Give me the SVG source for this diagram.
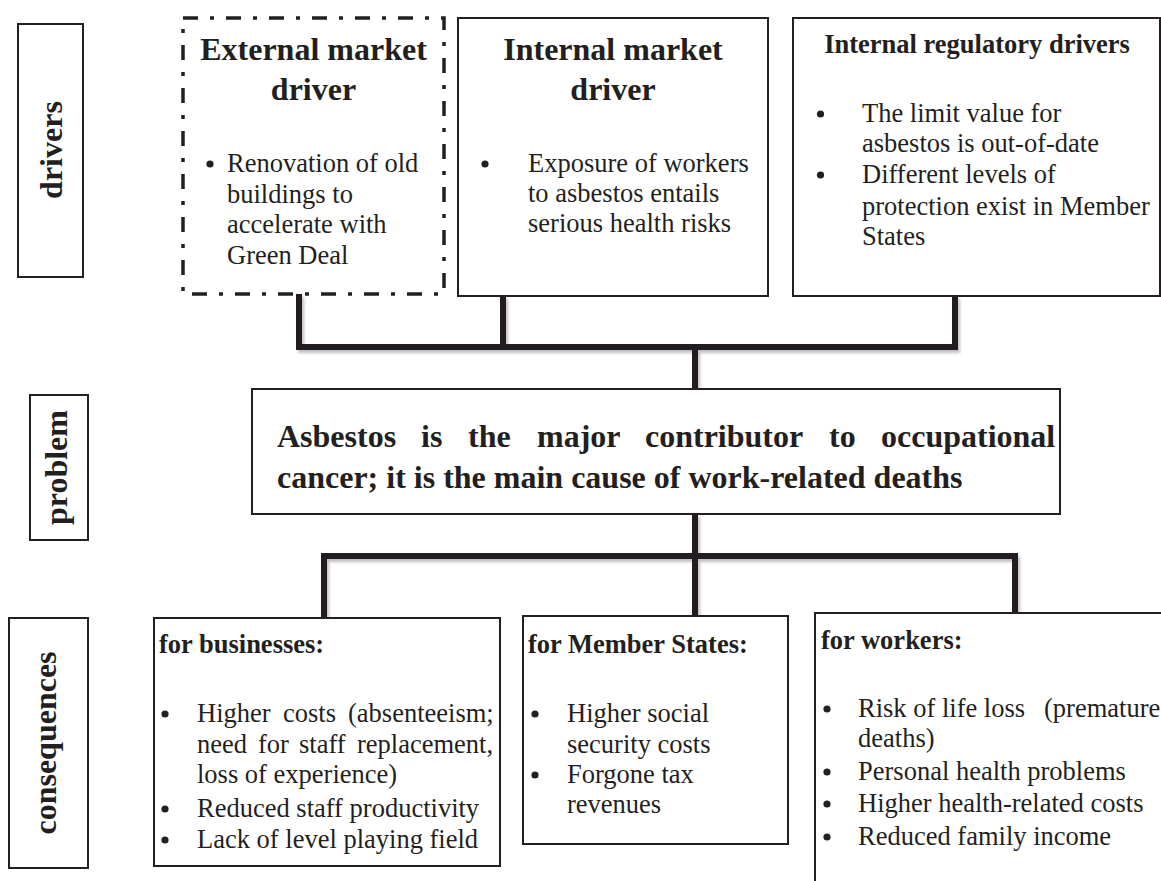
<svg xmlns="http://www.w3.org/2000/svg" width="1161" height="881" viewBox="0 0 1161 881">
  <defs>
    <style>
      .box{fill:#fff;stroke:#231f20;stroke-width:2}
      .dash{fill:#fff;stroke:#231f20;stroke-width:3.5;stroke-dasharray:15 12 4 12}
      .conn{fill:none;stroke:#231f20;stroke-width:6;stroke-linejoin:miter;stroke-linecap:butt}
      .t{font-family:"Liberation Serif","Times New Roman",serif;fill:#231f20}
      .b{font-weight:bold}
      .h{font-size:32px}
      .s{font-size:26.5px}
      .m{text-anchor:middle}
      .dot{fill:#231f20}
    </style>
    <filter id="sh" x="-10%" y="-10%" width="120%" height="130%">
      <feDropShadow dx="2" dy="3" stdDeviation="1.5" flood-color="#000" flood-opacity="0.25"/>
    </filter>
  </defs>
  <rect width="1161" height="881" fill="#fff"/>

  <g id="connectors" filter="url(#sh)">
    <path class="conn" d="M299,294 V347 H955 V296"/>
    <path class="conn" d="M503,296 V347"/>
    <path class="conn" d="M695,347 V389"/>
    <path class="conn" d="M695,514 V616"/>
    <path class="conn" d="M324,618 V556 H1015 V613"/>
  </g>

  <g id="label-drivers">
    <rect class="box" x="18" y="24" width="65" height="253"/>
    <text class="t b h m" transform="translate(62,150) rotate(-90)">drivers</text>
  </g>
  <g id="label-problem">
    <rect class="box" x="30" y="395" width="58" height="145"/>
    <text class="t b h m" transform="translate(67,467.5) rotate(-90)">problem</text>
  </g>
  <g id="label-consequences">
    <rect class="box" x="9" y="618" width="79" height="250"/>
    <text class="t b h m" transform="translate(56,743) rotate(-90)">consequences</text>
  </g>

  <g id="external-market-driver">
    <rect class="dash" x="183" y="18" width="261" height="276"/>
    <text class="t b h m" x="313.5" y="60">External market</text>
    <text class="t b h m" x="313.5" y="100">driver</text>
    <circle class="dot" cx="210" cy="164" r="3.6"/>
    <text class="t s" x="227" y="172">Renovation of old</text>
    <text class="t s" x="227" y="203">buildings to</text>
    <text class="t s" x="227" y="233">accelerate with</text>
    <text class="t s" x="227" y="264">Green Deal</text>
  </g>

  <g id="internal-market-driver">
    <rect class="box" x="458" y="18" width="310" height="278"/>
    <text class="t b h m" x="613" y="60">Internal market</text>
    <text class="t b h m" x="613" y="100">driver</text>
    <circle class="dot" cx="485" cy="164" r="3.6"/>
    <text class="t s" x="528" y="172">Exposure of workers</text>
    <text class="t s" x="528" y="202">to asbestos entails</text>
    <text class="t s" x="528" y="232">serious health risks</text>
  </g>

  <g id="internal-regulatory-drivers">
    <rect class="box" x="793" y="18" width="367" height="278"/>
    <text class="t b s m" x="977" y="53">Internal regulatory drivers</text>
    <circle class="dot" cx="820.5" cy="114" r="3.6"/>
    <text class="t s" x="862" y="122">The limit value for</text>
    <text class="t s" x="862" y="152">asbestos is out-of-date</text>
    <circle class="dot" cx="820.5" cy="175" r="3.6"/>
    <text class="t s" x="862" y="183">Different levels of</text>
    <text class="t s" x="862" y="215">protection exist in Member</text>
    <text class="t s" x="862" y="245">States</text>
  </g>

  <g id="problem">
    <rect class="box" x="252" y="389" width="808" height="125"/>
    <text class="t b h" y="447"><tspan x="277">Asbestos</tspan><tspan x="421">is</tspan><tspan x="468">the</tspan><tspan x="537">major</tspan><tspan x="645">contributor</tspan><tspan x="829">to</tspan><tspan x="881">occupational</tspan></text>
    <text class="t b h" x="277" y="488">cancer; it is the main cause of work-related deaths</text>
  </g>

  <g id="for-businesses">
    <rect class="box" x="154" y="618" width="346" height="248"/>
    <text class="t b s" x="159" y="653">for businesses:</text>
    <circle class="dot" cx="165" cy="714" r="3.6"/>
    <text class="t s" y="722"><tspan x="197">Higher</tspan><tspan x="283">costs</tspan><tspan x="348">(absenteeism;</tspan></text>
    <text class="t s" y="753"><tspan x="197">need</tspan><tspan x="258">for</tspan><tspan x="299">staff</tspan><tspan x="357">replacement,</tspan></text>
    <text class="t s" x="197" y="783">loss of experience)</text>
    <circle class="dot" cx="165" cy="809" r="3.6"/>
    <text class="t s" x="197" y="817">Reduced staff productivity</text>
    <circle class="dot" cx="165" cy="840" r="3.6"/>
    <text class="t s" x="197" y="848">Lack of level playing field</text>
  </g>

  <g id="for-member-states">
    <rect class="box" x="523" y="616" width="265" height="228"/>
    <text class="t b s" x="528" y="653">for Member States:</text>
    <circle class="dot" cx="535" cy="714" r="3.6"/>
    <text class="t s" x="567" y="722">Higher social</text>
    <text class="t s" x="567" y="753">security costs</text>
    <circle class="dot" cx="535" cy="775" r="3.6"/>
    <text class="t s" x="567" y="783">Forgone tax</text>
    <text class="t s" x="567" y="813">revenues</text>
  </g>

  <g id="for-workers">
    <rect class="box" x="815" y="613" width="400" height="300"/>
    <text class="t b s" x="821" y="649">for workers:</text>
    <circle class="dot" cx="827" cy="709" r="3.6"/>
    <text class="t s" y="717"><tspan x="858">Risk of life loss</tspan><tspan x="1044">(premature</tspan></text>
    <text class="t s" x="858" y="747">deaths)</text>
    <circle class="dot" cx="827" cy="772" r="3.6"/>
    <text class="t s" x="858" y="780">Personal health problems</text>
    <circle class="dot" cx="827" cy="804" r="3.6"/>
    <text class="t s" x="858" y="812">Higher health-related costs</text>
    <circle class="dot" cx="827" cy="837" r="3.6"/>
    <text class="t s" x="858" y="845">Reduced family income</text>
  </g>
</svg>
